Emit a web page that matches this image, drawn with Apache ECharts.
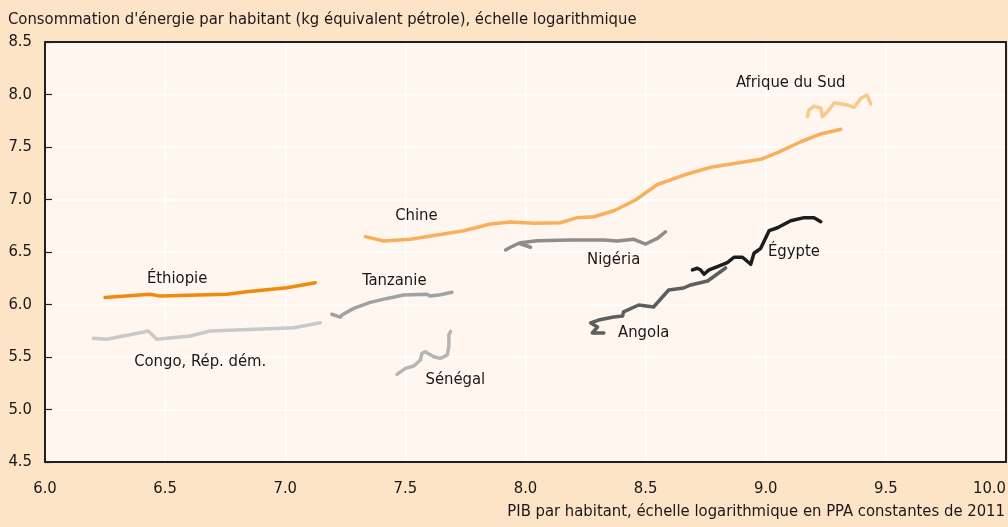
<!DOCTYPE html>
<html>
<head>
<meta charset="utf-8">
<script src="https://cdn.jsdelivr.net/npm/echarts@6/dist/echarts.min.js"></script>
<style>
  html, body { margin: 0; padding: 0; background: #FDE4C6; }
  #chart { width: 1008px; height: 527px; }
</style>
</head>
<body>
<div id="chart"></div>
<script>
// Log GDP per capita (PPP, constant 2011) vs log energy use per capita (kg oil equivalent)
const ethiopie = [[6.25,6.066],[6.438,6.098],[6.479,6.08],[6.757,6.098],[6.84,6.122],[7.007,6.16],[7.125,6.208]];
const congo = [[6.201,5.678],[6.257,5.669],[6.417,5.741],[6.43,5.748],[6.465,5.669],[6.604,5.70],[6.6875,5.748],[7.035,5.779],[7.146,5.827]];
const senegal = [[7.465,5.335],[7.5,5.392],[7.535,5.414],[7.5625,5.471],[7.569,5.535],[7.583,5.55],[7.618,5.503],[7.646,5.487],[7.674,5.519],[7.681,5.598],[7.681,5.71],[7.6875,5.741]];
const tanzanie = [[7.194,5.907],[7.229,5.879],[7.236,5.90],[7.285,5.963],[7.354,6.02],[7.424,6.058],[7.493,6.09],[7.59,6.097],[7.604,6.08],[7.646,6.093],[7.694,6.116]];
const chine = [[7.333,6.646],[7.41,6.605],[7.521,6.621],[7.632,6.662],[7.743,6.703],[7.854,6.767],[7.9375,6.786],[8.035,6.773],[8.146,6.779],[8.215,6.827],[8.285,6.836],[8.368,6.893],[8.458,6.995],[8.549,7.143],[8.66,7.233],[8.771,7.307],[8.979,7.383],[9.049,7.446],[9.146,7.55],[9.229,7.624],[9.3125,7.669]];
const nigeria = [[7.917,6.519],[7.9375,6.545],[7.972,6.583],[8.021,6.545],[7.979,6.589],[8.049,6.608],[8.1875,6.614],[8.326,6.614],[8.333,6.621],[8.382,6.605],[8.451,6.621],[8.5,6.576],[8.549,6.63],[8.583,6.693]];
const angola = [[8.326,5.729],[8.278,5.729],[8.3,5.786],[8.271,5.824],[8.304,5.852],[8.367,5.881],[8.404,5.89],[8.408,5.929],[8.471,5.995],[8.533,5.976],[8.596,6.138],[8.658,6.157],[8.6875,6.186],[8.758,6.224],[8.833,6.348]];
const egypte = [[8.695,6.329],[8.715,6.345],[8.729,6.329],[8.743,6.288],[8.764,6.329],[8.799,6.36],[8.84,6.398],[8.868,6.45],[8.903,6.45],[8.9375,6.383],[8.951,6.488],[8.979,6.535],[9.014,6.703],[9.049,6.731],[9.104,6.798],[9.16,6.827],[9.201,6.827],[9.229,6.789]];
const afriqueDuSud = [[9.174,7.789],[9.18,7.852],[9.201,7.89],[9.229,7.869],[9.236,7.789],[9.257,7.836],[9.285,7.922],[9.34,7.90],[9.368,7.878],[9.396,7.964],[9.421,7.995],[9.4375,7.91]];

// Country names and where each name sits (data space)
const countryLabels = [
  [9.104, 8.11, 'Afrique du Sud'],
  [7.546, 6.843, 'Chine'],
  [8.367, 6.424, 'Nigéria'],
  [6.55, 6.243, 'Éthiopie'],
  [7.454, 6.224, 'Tanzanie'],
  [9.117, 6.50, 'Égypte'],
  [6.646, 5.452, 'Congo, Rép. dém.'],
  [8.492, 5.729, 'Angola'],
  [7.708, 5.281, 'Sénégal']
];

const xTicks = [6, 6.5, 7, 7.5, 8, 8.5, 9, 9.5, 10];
const yTicks = [4.5, 5, 5.5, 6, 6.5, 7, 7.5, 8, 8.5];

const FONT = '"DejaVu Sans Condensed", "Liberation Sans Narrow", "Roboto", sans-serif';
const TXT = '#1a1718';
const FS = 16.5;
const FRAME = '#231f20';

function line(name, data, color) {
  return {
    name, type: 'line', data, showSymbol: false, symbol: 'none',
    lineStyle: { color, width: 3.5, cap: 'round', join: 'round' },
    silent: true
  };
}

// bare axis used only to close the frame on the top / right side
const frameOnly = {
  axisLine: { show: true, onZero: false, lineStyle: { color: FRAME, width: 2 } },
  axisTick: { show: false }, axisLabel: { show: false }, splitLine: { show: false }
};

const chart = echarts.init(document.getElementById('chart'));
chart.setOption({
  animation: false,
  backgroundColor: '#FDE4C6',
  textStyle: { fontFamily: FONT },
  grid: {
    left: 45, top: 42, right: 2, bottom: 65,
    outerBoundsMode: 'none', containLabel: false,
    show: true, backgroundColor: '#FEF6EF', borderWidth: 0
  },
  xAxis: [{
    type: 'value', min: xTicks[0], max: xTicks[xTicks.length - 1], interval: 0.5,
    axisLine: { show: true, onZero: false, lineStyle: { color: FRAME, width: 2 } },
    axisTick: { show: false },
    splitLine: { show: true, lineStyle: { color: '#ffffff', width: 1.5 } },
    axisLabel: { margin: 18, fontSize: FS, color: TXT, fontFamily: FONT,
      alignMaxLabel: 'right', formatter: v => v.toFixed(1) }
  }, Object.assign({ type: 'value', position: 'top', min: 6, max: 10 }, frameOnly)],
  yAxis: [{
    type: 'value', min: yTicks[0], max: yTicks[yTicks.length - 1], interval: 0.5,
    axisLine: { show: true, onZero: false, lineStyle: { color: FRAME, width: 2 } },
    axisTick: { show: true, inside: true, length: 7, lineStyle: { color: FRAME, width: 1.2 } },
    splitLine: { show: true, lineStyle: { color: '#ffffff', width: 1.5 } },
    axisLabel: { margin: 13, fontSize: FS, color: TXT, fontFamily: FONT,
      formatter: v => v.toFixed(1) }
  }, Object.assign({ type: 'value', position: 'right', min: 4.5, max: 8.5 }, frameOnly)],
  graphic: [
    { type: 'text', left: 8, top: 11,
      style: { text: "Consommation d'énergie par habitant (kg équivalent pétrole), échelle logarithmique",
        fontSize: FS, fill: TXT, fontFamily: FONT } },
    { type: 'text', right: 3, top: 503,
      style: { text: 'PIB par habitant, échelle logarithmique en PPA constantes de 2011',
        fontSize: FS, fill: TXT, fontFamily: FONT } }
  ],
  series: [
    line('Afrique du Sud', afriqueDuSud, '#FBC88C'),
    line('Congo, Rép. dém.', congo, '#C9C9C9'),
    line('Sénégal', senegal, '#B5B5B5'),
    line('Tanzanie', tanzanie, '#A2A2A2'),
    line('Nigéria', nigeria, '#8D8D8D'),
    line('Chine', chine, '#F8B05C'),
    line('Angola', angola, '#5E5E5E'),
    line('Égypte', egypte, '#1D1D1D'),
    line('Éthiopie', ethiopie, '#F08A0C'),
    {
      type: 'scatter', data: countryLabels, symbolSize: 0, silent: true,
      itemStyle: { opacity: 1 },
      label: { show: true, position: 'inside', formatter: p => p.data[2],
        fontSize: FS, color: TXT, textBorderWidth: 0, fontFamily: FONT }
    }
  ]
});
</script>
</body>
</html>
